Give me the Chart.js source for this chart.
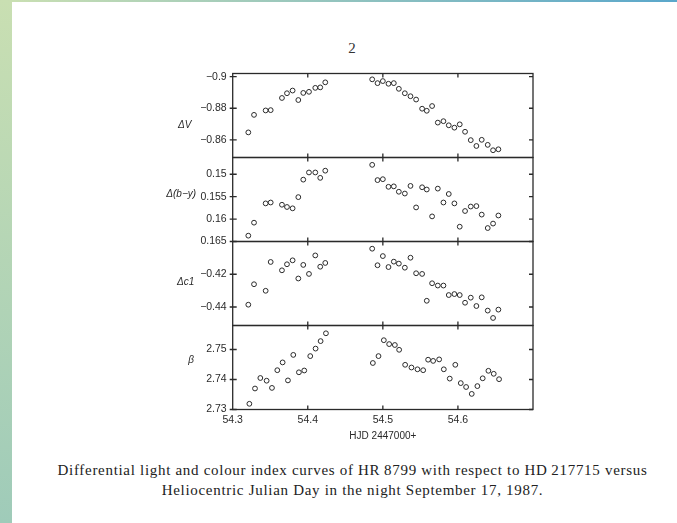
<!DOCTYPE html>
<html>
<head>
<meta charset="utf-8">
<script src="https://cdn.jsdelivr.net/npm/chart.js@4/dist/chart.umd.min.js"></script>
<style>
  html, body { margin: 0; padding: 0; }
  body { width: 677px; height: 523px; background: #fff; position: relative; overflow: hidden; }
  .strip { position: absolute; left: 0; top: 0; width: 12px; height: 523px;
           background: linear-gradient(to bottom, #c9dfb2, #9fcbb9); }
  .topline { position: absolute; left: 12px; top: 0; width: 665px; height: 2px;
             background: linear-gradient(to right, #c9dfb2, #5aa7cb); }
  .pageno { position: absolute; left: 0; width: 704px; top: 40px; text-align: center;
            font: 15px "Liberation Serif", serif; color: #333; }
  #wrap { position: absolute; left: 160px; top: 60px; width: 385px; height: 390px; }
  .caption { position: absolute; left: 20px; width: 665px; top: 460px; text-align: center;
             font: 15px/20px "Liberation Serif", serif; letter-spacing: 0.7px; color: #222; }
</style>
</head>
<body>
<div class="strip"></div>
<div class="topline"></div>
<div class="pageno">2</div>
<div id="wrap"><canvas id="lc" width="385" height="390"></canvas></div>
<div class="caption">Differential light and colour index curves of HR&#8201;8799 with respect to HD&#8201;217715 versus<br>Heliocentric Julian Day in the night September 17, 1987.</div>

<script>
// HJD - 2447000 for the uvby points (panels 1-3) and the beta points
const hjd = [54.3208, 54.3284, 54.3439, 54.3506, 54.3656, 54.3723, 54.3798, 54.3874, 54.394, 54.4016,
             54.41, 54.4166, 54.4233, 54.4858, 54.4929, 54.5, 54.5075, 54.5146, 54.5213, 54.5293,
             54.5368, 54.5443, 54.5523, 54.5585, 54.5656, 54.5732, 54.5807, 54.5878, 54.5953, 54.6024,
             54.6095, 54.6171, 54.6246, 54.6317, 54.6397, 54.6468, 54.6539];
const hjdBeta = [54.3222, 54.3297, 54.3368, 54.3452, 54.3523, 54.3594, 54.3665, 54.3736, 54.3807, 54.3882,
                 54.3953, 54.4033, 54.4104, 54.4171, 54.4242, 54.4867, 54.4942, 54.5013, 54.5084, 54.516,
                 54.5217, 54.5297, 54.5381, 54.5461, 54.5537, 54.5603, 54.567, 54.575, 54.5812, 54.5891,
                 54.5965, 54.6038, 54.6109, 54.6184, 54.6259, 54.633, 54.6406, 54.6477, 54.6548];

const dV = [-0.8647, -0.8758, -0.8786, -0.8788, -0.8865, -0.8895, -0.8912, -0.8852, -0.8897, -0.8904,
            -0.8929, -0.8932, -0.8964, -0.8983, -0.8959, -0.8972, -0.8955, -0.8959, -0.8923, -0.8895,
            -0.8876, -0.8855, -0.8797, -0.8784, -0.8814, -0.8709, -0.8718, -0.8692, -0.8677, -0.8698,
            -0.8651, -0.8598, -0.8561, -0.86, -0.8568, -0.8534, -0.854];
const dBY = [0.1637, 0.1608, 0.1565, 0.1563, 0.1568, 0.1573, 0.1576, 0.1551, 0.1512, 0.1496,
             0.1496, 0.1508, 0.1492, 0.1479, 0.1513, 0.1511, 0.1528, 0.1527, 0.1539, 0.1543,
             0.1526, 0.1574, 0.1529, 0.1534, 0.1594, 0.1532, 0.1563, 0.1544, 0.1565, 0.1617,
             0.1582, 0.1572, 0.1571, 0.159, 0.162, 0.161, 0.1592];
const dC1 = [-0.4386, -0.4261, -0.4301, -0.4125, -0.4176, -0.4139, -0.4115, -0.4226, -0.4143, -0.4198,
             -0.4085, -0.4154, -0.4131, -0.4044, -0.4145, -0.4089, -0.4156, -0.4123, -0.4135, -0.416,
             -0.4099, -0.4194, -0.4198, -0.4362, -0.4255, -0.4269, -0.4269, -0.4327, -0.4321, -0.4327,
             -0.4374, -0.4343, -0.4394, -0.4341, -0.4422, -0.4467, -0.4416];
const beta = [2.7319, 2.737, 2.7405, 2.7396, 2.7372, 2.7431, 2.7457, 2.7397, 2.7482, 2.7424,
              2.743, 2.7478, 2.7503, 2.7528, 2.7554, 2.7455, 2.7478, 2.7531, 2.7518, 2.7515,
              2.7499, 2.7449, 2.744, 2.7434, 2.7431, 2.7466, 2.7462, 2.7467, 2.7434, 2.7403,
              2.7449, 2.7388, 2.7375, 2.7352, 2.7378, 2.7404, 2.7429, 2.7419, 2.7401];

// tick positions and their printed labels
const xTicks = [54.3, 54.4, 54.5, 54.6];
const xLabels = ['54.3', '54.4', '54.5', '54.6'];
const vTicks = [-0.9, -0.88, -0.86];
const vLabels = ['\u22120.9', '\u22120.88', '\u22120.86'];
const byTicks = [0.15, 0.155, 0.16, 0.165];
const byLabels = ['0.15', '0.155', '0.16', '0.165'];
const c1Ticks = [-0.42, -0.44];
const c1Labels = ['\u22120.42', '\u22120.44'];
const betaTicks = [2.73, 2.74, 2.75];
const betaLabels = ['2.73', '2.74', '2.75'];

const INK = '#2a2a2a';
const tickFont = { family: '"Liberation Sans", Arial, sans-serif', size: 10.5 };

const pts = (xs, ys) => xs.map((x, i) => ({ x, y: ys[i] }));

// y panels, top to bottom; tx/ty place the axis name left of the frame
const panels = [
    { id: 'yV',  title: '\u0394V',          ticks: vTicks,    labels: vLabels,    min: -0.902,  max: -0.8488, reverse: true,  tx: -48,   ty: 0.62 },
    { id: 'yBY', title: '\u0394(b\u2212y)', ticks: byTicks,   labels: byLabels,   min: 0.14626, max: 0.165,   reverse: true,  tx: -51.5, ty: 0.435 },
    { id: 'yC1', title: '\u0394c1',         ticks: c1Ticks,   labels: c1Labels,   min: -0.4513, max: -0.40,   reverse: false, tx: -47,   ty: 0.48 },
    { id: 'yB',  title: '\u03b2',           ticks: betaTicks, labels: betaLabels, min: 2.73,    max: 2.758,   reverse: false, tx: -41.5, ty: 0.41 },
];

const fixTicks = (vals) => (scale) => { scale.ticks = vals.map(v => ({ value: v })); };
const labelOf = (vals, labels) => (value) => {
    const i = vals.findIndex(v => Math.abs(v - value) < 1e-9);
    return i < 0 ? '' : labels[i];
};

const scales = {
    x: {
        type: 'linear', min: 54.3, max: 54.7,
        grid: { display: false, drawTicks: false }, border: { display: false },
        afterBuildTicks: fixTicks(xTicks),
        afterFit: (s) => { s.height = 40.5; },
        ticks: { font: tickFont, color: INK, padding: 4, maxRotation: 0, callback: labelOf(xTicks, xLabels) },
        title: { display: true, text: 'HJD 2447000+', font: { ...tickFont, size: 10 }, color: INK, padding: { top: 0, bottom: 8 } },
    },
};
panels.forEach((p, i) => {
    scales[p.id] = {
        type: 'linear', position: 'left', stack: 'panels', stackWeight: 1, weight: 10 - i,
        min: p.min, max: p.max, reverse: p.reverse,
        grid: { display: false, drawTicks: false }, border: { display: false },
        afterBuildTicks: fixTicks(p.ticks),
        afterFit: (s) => { s.width = 72.7; },
        ticks: { font: tickFont, color: INK, padding: 6, callback: labelOf(p.ticks, p.labels) },
    };
});

// panel frames, inward tick marks and the horizontal axis names
const framePlugin = {
    id: 'frames',
    afterDraw(chart) {
        const { ctx, chartArea } = chart;
        const xs = chart.scales.x;
        const L = chartArea.left, R = chartArea.right;
        ctx.save();
        ctx.strokeStyle = INK;
        ctx.lineWidth = 1.3;
        panels.forEach((p) => {
            const s = chart.scales[p.id];
            const T = s.top, B = s.bottom;
            ctx.strokeRect(L, T, R - L, B - T);
            ctx.beginPath();
            p.ticks.forEach((v) => {
                const y = s.getPixelForValue(v);
                ctx.moveTo(L - 3, y); ctx.lineTo(L + 4, y);
                ctx.moveTo(R - 4, y); ctx.lineTo(R, y);
            });
            xTicks.slice(1).forEach((v) => {
                const x = xs.getPixelForValue(v);
                ctx.moveTo(x, T); ctx.lineTo(x, T + 4);
                ctx.moveTo(x, B - 4); ctx.lineTo(x, B);
            });
            ctx.stroke();

            ctx.fillStyle = INK;
            ctx.font = 'italic 10px "Liberation Sans", Arial, sans-serif';
            ctx.textAlign = 'center';
            ctx.textBaseline = 'middle';
            ctx.fillText(p.title, L + p.tx, T + p.ty * (B - T));
        });
        ctx.restore();
    }
};

const ds = (xs, ys, axis) => ({
    data: pts(xs, ys), yAxisID: axis, xAxisID: 'x',
    pointStyle: 'circle', pointRadius: 2.4, pointBorderWidth: 1,
    pointBorderColor: INK, pointBackgroundColor: 'rgba(0,0,0,0)', showLine: false,
});

new Chart(document.getElementById('lc'), {
    type: 'scatter',
    data: {
        datasets: [
            ds(hjd, dV, 'yV'),
            ds(hjd, dBY, 'yBY'),
            ds(hjd, dC1, 'yC1'),
            ds(hjdBeta, beta, 'yB'),
        ]
    },
    options: {
        responsive: false,
        animation: false,
        layout: { padding: { top: 13.5, right: 12, left: 0, bottom: 0 } },
        plugins: { legend: { display: false }, tooltip: { enabled: false } },
        scales,
    },
    plugins: [framePlugin],
});
</script>
</body>
</html>
